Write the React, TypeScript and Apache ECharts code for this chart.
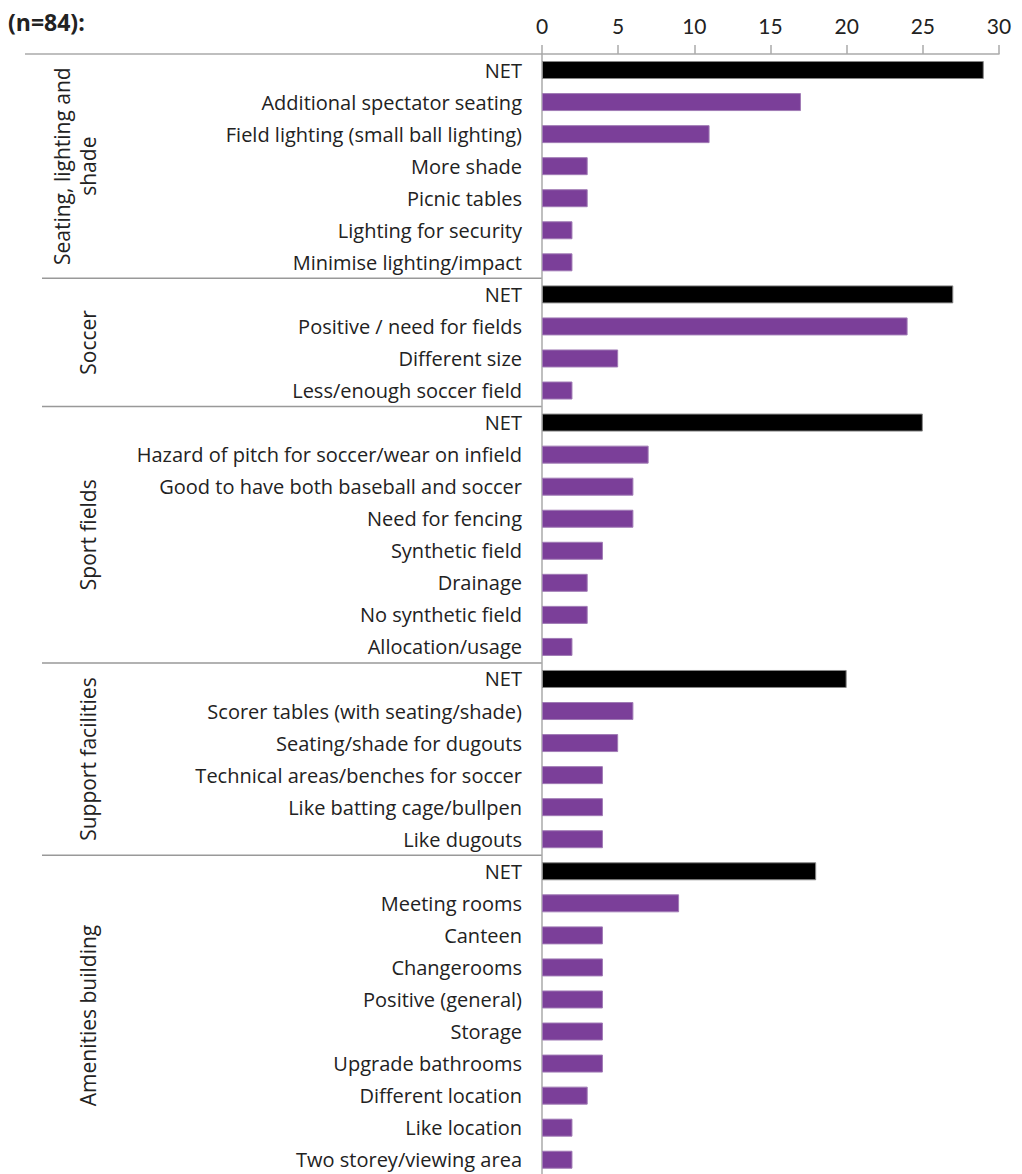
import React, { useEffect, useRef } from "react";
import * as echarts from "echarts";

const titleText = "(n=84):";
const groupNames = ["Seating, lighting and\nshade", "Soccer", "Sport fields", "Support facilities", "Amenities building"];
const groupSizes = [7, 4, 8, 6, 10];
const categories = [
  "NET", "Additional spectator seating", "Field lighting (small ball lighting)", "More shade", "Picnic tables", "Lighting for security", "Minimise lighting/impact",
  "NET", "Positive / need for fields", "Different size", "Less/enough soccer field",
  "NET", "Hazard of pitch for soccer/wear on infield", "Good to have both baseball and soccer", "Need for fencing", "Synthetic field", "Drainage", "No synthetic field", "Allocation/usage",
  "NET", "Scorer tables (with seating/shade)", "Seating/shade for dugouts", "Technical areas/benches for soccer", "Like batting cage/bullpen", "Like dugouts",
  "NET", "Meeting rooms", "Canteen", "Changerooms", "Positive (general)", "Storage", "Upgrade bathrooms", "Different location", "Like location", "Two storey/viewing area",
];
const values = [
  29, 17, 11, 3, 3, 2, 2,
  27, 24, 5, 2,
  25, 7, 6, 6, 4, 3, 3, 2,
  20, 6, 5, 4, 4, 4,
  18, 9, 4, 4, 4, 4, 4, 3, 2, 2,
];
const xTicks = [0, 5, 10, 15, 20, 25, 30];

const FONT = "Open Sans";

export default function App() {
  const ref = useRef<HTMLDivElement>(null);
  useEffect(() => {
    const chart = echarts.init(ref.current!, undefined, { renderer: "svg" });
    const gridLeft = 542;
    const gridTop = 54;
    const rowH = 32.05;
    chart.setOption({
      animation: false,
      grid: { left: gridLeft, top: gridTop, width: 457, height: rowH * categories.length },
      xAxis: {
        type: "value",
        position: "top",
        min: xTicks[0],
        max: xTicks[xTicks.length - 1],
        interval: 5,
        axisLine: { show: true, lineStyle: { color: "#aaa", width: 1.5 } },
        axisTick: { show: true, length: 9, lineStyle: { color: "#aaa", width: 1.5 } },
        axisLabel: { fontFamily: "Lato", fontSize: 21, color: "#222", margin: 18 },
        splitLine: { show: false },
      },
      yAxis: {
        type: "category",
        inverse: true,
        data: categories,
        axisLine: { show: true, lineStyle: { color: "#aaa", width: 1.5 } },
        axisTick: { show: false },
        axisLabel: { fontFamily: FONT, fontSize: 20, color: "#222", margin: 20 },
      },
      series: [
        {
          type: "bar",
          barWidth: 18,
          data: values.map((v, i) => ({
            value: v,
            itemStyle: {
              color: categories[i] === "NET" ? "#000" : "#7b3f99",
              borderColor: categories[i] === "NET" ? "#888" : "#a07bb5",
              borderWidth: 1,
            },
          })),
        },
      ],
    });

    const graphics: any[] = [];
    graphics.push({
      type: "text",
      left: 8,
      top: 10,
      style: { text: titleText, fontFamily: FONT, fontSize: 23, fontWeight: "bold", fill: "#222" },
    });
    const axisY = gridTop;
    graphics.push({
      type: "line",
      shape: { x1: 25, y1: axisY, x2: gridLeft, y2: axisY },
      style: { stroke: "#aaa", lineWidth: 1.5 },
    });
    let start = 0;
    groupSizes.forEach((size, gi) => {
      const yStart = chart.convertToPixel({ yAxisIndex: 0 }, start) as number;
      const yEnd = chart.convertToPixel({ yAxisIndex: 0 }, start + size - 1) as number;
      const twoLine = groupNames[gi].includes("\n");
      graphics.push({
        type: "text",
        x: twoLine ? 75 : 88,
        y: (yStart + yEnd) / 2,
        rotation: Math.PI / 2,
        style: {
          text: groupNames[gi],
          fontFamily: FONT,
          fontSize: 21,
          fill: "#222",
          align: "center",
          verticalAlign: "middle",
          lineHeight: 26,
        },
      });
      if (gi > 0) {
        const prev = chart.convertToPixel({ yAxisIndex: 0 }, start - 1) as number;
        const y = (prev + yStart) / 2;
        graphics.push({
          type: "line",
          shape: { x1: 42, y1: y, x2: gridLeft, y2: y },
          style: { stroke: "#999", lineWidth: 1.5 },
        });
      }
      start += size;
    });
    chart.setOption({ graphic: graphics });
    return () => chart.dispose();
  }, []);
  return (
    <div
      ref={ref}
      style={{ position: "fixed", top: 0, left: 0, width: 1022, height: 1190, background: "#fff" }}
    />
  );
}
